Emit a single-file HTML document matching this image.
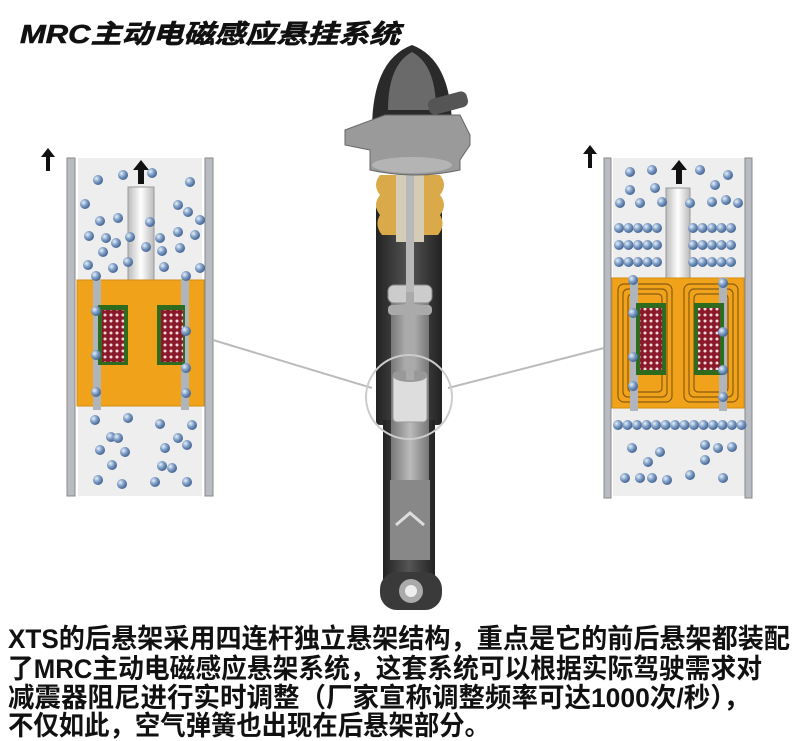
<!DOCTYPE html>
<html><head><meta charset="utf-8">
<style>
html,body{margin:0;padding:0;background:#fff;}
svg{display:block;}
.t{font-family:"Liberation Sans","Noto Sans CJK SC",sans-serif;font-weight:bold;fill:#111;}
</style></head>
<body>
<svg id="s" width="800" height="741" viewBox="0 0 800 741" xmlns="http://www.w3.org/2000/svg">
<defs>
<radialGradient id="ball" cx="0.35" cy="0.35" r="0.7">
<stop offset="0" stop-color="#e8f0fa"/><stop offset="0.5" stop-color="#7d9cc4"/><stop offset="1" stop-color="#3d5f8e"/>
</radialGradient>
<linearGradient id="body" x1="0" x2="1"><stop offset="0" stop-color="#222"/><stop offset="0.5" stop-color="#555"/><stop offset="1" stop-color="#222"/></linearGradient>
<linearGradient id="inner" x1="0" x2="1"><stop offset="0" stop-color="#777"/><stop offset="0.5" stop-color="#bbb"/><stop offset="1" stop-color="#777"/></linearGradient>
<linearGradient id="rod" x1="0" x2="1"><stop offset="0" stop-color="#bbb"/><stop offset="0.5" stop-color="#fff"/><stop offset="1" stop-color="#bbb"/></linearGradient>
<pattern id="coil" width="6" height="6" patternUnits="userSpaceOnUse"><rect width="6" height="6" fill="#8a1a2a"/><circle cx="3" cy="3" r="1.5" fill="#f3d8dc"/></pattern>
</defs>

<text class="t" x="20" y="43" font-size="26" font-style="italic" stroke="#111" stroke-width="0.6" textLength="380" lengthAdjust="spacingAndGlyphs">MRC主动电磁感应悬挂系统</text>

<!-- LEFT PANEL -->
<rect x="78" y="158" width="124" height="338" fill="#eeeeee"/>
<rect x="67" y="158" width="8" height="338" fill="#b8bcc2" stroke="#888" stroke-width="1"/>
<rect x="205" y="158" width="8" height="338" fill="#b8bcc2" stroke="#888" stroke-width="1"/>
<rect x="128" y="187" width="26" height="93" fill="url(#rod)" stroke="#999"/>
<path d="M141 160 l-8 10 h5 v14 h6 v-14 h5 z" fill="#111"/>
<path d="M48 148 l-7 9 h5 v14 h4 v-14 h5 z" fill="#111"/>
<rect x="77" y="280" width="127" height="126" fill="#f0a31a" stroke="#d48b10"/>
<rect x="93" y="280" width="8" height="130" fill="#b0b4bb"/>
<rect x="181" y="280" width="8" height="130" fill="#b0b4bb"/>
<rect x="101" y="305" width="22" height="55" fill="#fff"/>
<rect x="163" y="305" width="20" height="55" fill="#fff"/>
<rect x="98" y="305" width="30" height="60" fill="#2f6b1e"/>
<rect x="102" y="310" width="22" height="52" fill="url(#coil)"/>
<rect x="157" y="305" width="28" height="60" fill="#2f6b1e"/>
<rect x="161" y="310" width="22" height="52" fill="url(#coil)"/>

<!-- RIGHT PANEL -->
<rect x="613" y="158" width="132" height="338" fill="#eeeeee"/>
<rect x="604" y="158" width="7" height="340" fill="#b8bcc2" stroke="#888"/>
<rect x="745" y="158" width="7" height="340" fill="#b8bcc2" stroke="#888"/>
<rect x="666" y="188" width="24" height="90" fill="url(#rod)" stroke="#999"/>
<path d="M679 160 l-8 10 h5 v14 h6 v-14 h5 z" fill="#111"/>
<path d="M590 145 l-7 9 h5 v14 h4 v-14 h5 z" fill="#111"/>
<rect x="612" y="278" width="132" height="130" fill="#f0a31a" stroke="#d48b10"/>
<g fill="none" stroke="#8a5a10" stroke-width="1.2">
<rect x="618" y="284" width="54" height="118" rx="6"/><rect x="623" y="289" width="44" height="108" rx="5"/><rect x="628" y="294" width="34" height="98" rx="4"/>
<rect x="684" y="284" width="54" height="118" rx="6"/><rect x="689" y="289" width="44" height="108" rx="5"/><rect x="694" y="294" width="34" height="98" rx="4"/>
</g>
<rect x="630" y="278" width="8" height="133" fill="#b0b4bb"/>
<rect x="719" y="278" width="8" height="133" fill="#b0b4bb"/>
<rect x="638" y="305" width="12" height="70" fill="#fff"/>
<rect x="708" y="305" width="12" height="70" fill="#fff"/>
<rect x="636" y="303" width="30" height="72" fill="#2f6b1e"/>
<rect x="640" y="308" width="22" height="62" fill="url(#coil)"/>
<rect x="694" y="303" width="30" height="72" fill="#2f6b1e"/>
<rect x="698" y="308" width="22" height="62" fill="url(#coil)"/>

<g id="balls"></g>

<!-- connectors -->
<line x1="213" y1="340" x2="372" y2="388" stroke="#bbb" stroke-width="2"/>
<line x1="448" y1="388" x2="604" y2="348" stroke="#bbb" stroke-width="2"/>

<!-- SHOCK -->
<rect x="376" y="205" width="66" height="220" fill="url(#body)" rx="4"/>
<rect x="383" y="420" width="52" height="160" fill="url(#body)"/>
<rect x="391" y="290" width="38" height="270" fill="url(#inner)"/>
<rect x="390" y="480" width="40" height="80" fill="#888"/>
<path d="M396 525 l14 -12 l14 12" fill="none" stroke="#ddd" stroke-width="3"/>
<rect x="388" y="285" width="44" height="18" rx="6" fill="#ccc" stroke="#888"/>
<rect x="388" y="305" width="44" height="10" rx="4" fill="#aaa"/>
<rect x="393" y="372" width="34" height="50" rx="4" fill="#ddd" stroke="#999"/>
<ellipse cx="410" cy="376" rx="17" ry="6" fill="#999"/>
<rect x="406" y="170" width="8" height="210" fill="#aaa"/>
<path d="M380 175 q-8 10 0 20 q-8 10 0 20 q-6 10 2 20 h16 v-60z" fill="#d9a94a"/>
<path d="M440 175 q8 10 0 20 q8 10 0 20 q6 10 -2 20 h-16 v-60z" fill="#d9a94a"/>
<rect x="396" y="172" width="28" height="70" fill="#d4ccb4"/>
<rect x="406" y="172" width="8" height="120" fill="#b8b8b8"/>
<path d="M372 130 q0 -70 40 -85 q40 15 40 85z" fill="#2a2a2a"/>
<path d="M388 110 q0 -45 24 -58 q24 13 24 58z" fill="#6a6a6a"/>
<path d="M345 130 l40 -15 h75 l10 20 v10 l-10 15 v10 q-45 10 -90 0 v-20 l-25 -5z" fill="#9a9a9a" stroke="#666"/>
<ellipse cx="412" cy="165" rx="40" ry="8" fill="#b4b4b4"/>
<rect x="428" y="95" width="40" height="16" rx="6" fill="#555" transform="rotate(-15 448 103)"/>
<rect x="380" y="572" width="62" height="38" rx="17" fill="#3a3a3a"/>
<circle cx="411" cy="591" r="12" fill="#aaa"/><circle cx="411" cy="591" r="6" fill="#eee"/>
<ellipse cx="409" cy="397" rx="43" ry="42" fill="none" stroke="#ccc" stroke-width="2"/>

<g class="t" font-size="27">
<text x="8" y="648" textLength="782" lengthAdjust="spacingAndGlyphs">XTS的后悬架采用四连杆独立悬架结构，重点是它的前后悬架都装配</text>
<text x="8" y="678" textLength="754" lengthAdjust="spacingAndGlyphs">了MRC主动电磁感应悬架系统，这套系统可以根据实际驾驶需求对</text>
<text x="8" y="707" textLength="742" lengthAdjust="spacingAndGlyphs">减震器阻尼进行实时调整（厂家宣称调整频率可达1000次/秒），</text>
<text x="8" y="735" textLength="482" lengthAdjust="spacingAndGlyphs">不仅如此，空气弹簧也出现在后悬架部分。</text>
</g>
</svg>
<script>
var g=document.getElementById('balls'),ns='http://www.w3.org/2000/svg';
function b(x,y){var c=document.createElementNS(ns,'circle');c.setAttribute('cx',x);c.setAttribute('cy',y);c.setAttribute('r',5);c.setAttribute('fill','url(#ball)');g.appendChild(c);}
var L=[[98,180],[123,175],[152,173],[190,182],[85,204],[118,218],[100,221],[116,243],[178,205],[188,212],[150,222],[200,220],[89,236],[106,238],[130,237],[160,238],[178,232],[195,235],[103,252],[146,247],[162,251],[180,248],[88,265],[113,268],[128,262],[164,267],[200,268],[96,276],[186,276],[96,311],[186,331],[96,355],[186,368],[96,392],[186,393],[95,420],[128,418],[160,424],[192,425],[111,437],[118,438],[100,450],[125,452],[178,438],[187,445],[165,448],[112,465],[162,466],[172,468],[98,480],[122,484],[155,482],[187,482]];
L.forEach(function(p){b(p[0],p[1]);});
var R=[[630,172],[652,170],[700,170],[728,175],[630,190],[655,188],[715,185],[620,203],[640,203],[662,202],[690,203],[712,202],[726,200],[738,203]];
R.forEach(function(p){b(p[0],p[1]);});
[228,245,262].forEach(function(y){for(var i=0;i<5;i++){b(619+i*9.5,y);b(693+i*9.5,y);}});
for(var i=0;i<14;i++)b(618+i*9.5,425);
[[632,448],[660,452],[705,445],[718,448],[732,447],[648,462],[705,460],[625,478],[640,478],[652,478],[667,480],[690,475],[723,478]].forEach(function(p){b(p[0],p[1]);});
[[633,280],[633,313],[633,357],[633,386],[723,283],[723,332],[723,370],[723,397]].forEach(function(p){b(p[0],p[1]);});
</script>
</body></html>
